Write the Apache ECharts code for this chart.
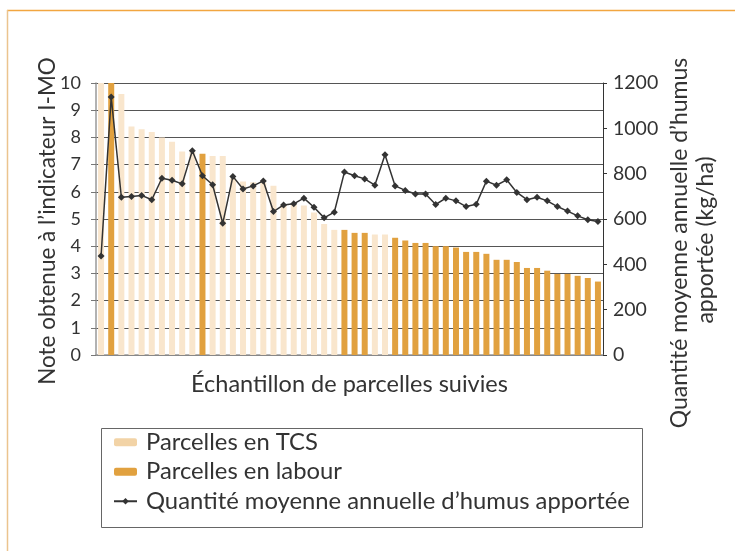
<!DOCTYPE html>
<html><head><meta charset="utf-8">
<script src="https://cdn.jsdelivr.net/npm/echarts@6/dist/echarts.min.js"></script>
<style>html,body{margin:0;padding:0;background:#fff}#c{width:735px;height:551px}</style>
</head><body><div id="c"></div>
<script>
const categories = Array.from({length: 50}, (_, i) => String(i + 1));
// "L" = Parcelles en TCS, "D" = Parcelles en labour
const types = ['L','D','L','L','L','L','L','L','L','L',
               'D','L','L','L','L','L','L','L','L','L',
               'L','L','L','L','D','D','D','L','L','D',
               'D','D','D','D','D','D','D','D','D','D',
               'D','D','D','D','D','D','D','D','D','D'];
const notes = [10, 10, 9.6, 8.4, 8.3, 8.2, 8.0, 7.84, 7.48, 7.45,
               7.4, 7.32, 7.32, 6.5, 6.38, 6.35, 6.33, 6.22, 5.52, 5.52,
               5.5, 5.24, 4.82, 4.6, 4.6, 4.49, 4.49, 4.43, 4.43, 4.31,
               4.21, 4.12, 4.12, 4.0, 4.0, 3.95, 3.79, 3.79, 3.72, 3.5,
               3.5, 3.42, 3.2, 3.2, 3.1, 2.98, 2.98, 2.91, 2.83, 2.7];
const humus = [437, 1138, 696, 699, 704, 685, 780, 771, 755, 901,
               791, 751, 581, 788, 732, 746, 768, 633, 662, 667,
               692, 652, 605, 630, 807, 791, 777, 749, 883, 746,
               726, 710, 710, 664, 692, 680, 655, 665, 767, 749,
               773, 717, 685, 696, 680, 655, 635, 614, 597, 589];
const leftTicks = [0, 10, 1];
const rightTicks = [0, 1200, 200];

const tcsData = notes.map((v, i) => types[i] === 'L' ? v : '-');
const labourData = notes.map((v, i) => types[i] === 'D' ? v : '-');

const FONT = 'Lato';
const chart = echarts.init(document.getElementById('c'), null, {renderer: 'canvas'});
chart.setOption({
  animation: false,
  textStyle: {fontFamily: FONT, color: '#333'},
  grid: {left: 96, right: 132, top: 83, bottom: 196, containLabel: false},
  xAxis: {
    type: 'category', data: categories, boundaryGap: true,
    axisLine: {lineStyle: {color: '#999', width: 1.5}},
    axisTick: {show: false}, axisLabel: {show: false},
    name: 'Échantillon de parcelles suivies', nameLocation: 'middle', nameGap: 17,
    nameTextStyle: {fontFamily: FONT, fontSize: 23.5, color: '#333'}
  },
  yAxis: [{
    type: 'value', min: leftTicks[0], max: leftTicks[1], interval: leftTicks[2],
    axisLine: {show: true, lineStyle: {color: '#999', width: 1.5}},
    axisTick: {show: true, inside: false, length: 5, lineStyle: {color: '#777'}},
    axisLabel: {fontFamily: FONT, fontSize: 18, color: '#333', margin: 15},
    splitLine: {show: true, lineStyle: {color: '#555', width: 1}}
  }, {
    type: 'value', position: 'right', min: rightTicks[0], max: rightTicks[1], interval: rightTicks[2],
    axisLine: {show: true, lineStyle: {color: '#333', width: 1}},
    axisTick: {show: true, inside: false, length: 4, lineStyle: {color: '#333'}},
    axisLabel: {fontFamily: FONT, fontSize: 19.5, color: '#333', margin: 10, formatter: v => String(v)},
    splitLine: {show: false}
  }],
  legend: {
    orient: 'vertical', left: 113, top: 429, padding: 0, itemGap: 3,
    itemWidth: 23, itemHeight: 8,
    textStyle: {fontFamily: FONT, fontSize: 23.8, color: '#333', lineHeight: 26.5, padding: [0, 0, 0, 4]},
    data: [
      {name: 'Parcelles en TCS', itemStyle: {color: '#F2D3A6'}},
      {name: 'Parcelles en labour'},
      {name: 'Quantité moyenne annuelle d’humus apportée'}
    ]
  },
  series: [{
    name: 'Parcelles en TCS', type: 'bar', data: tcsData, barWidth: 6, barGap: '-100%',
    itemStyle: {color: '#F9E6CD'}, z: 2
  }, {
    name: 'Parcelles en labour', type: 'bar', data: labourData, barWidth: 6,
    itemStyle: {color: '#E1A13F'}, z: 2
  }, {
    name: 'Quantité moyenne annuelle d’humus apportée', type: 'line', yAxisIndex: 1, data: humus,
    symbol: 'diamond', symbolSize: 7, showSymbol: true, showAllSymbol: true,
    lineStyle: {color: '#333', width: 1.5}, itemStyle: {color: '#333'}, z: 5
  }],
  graphic: [
    {type: 'line', shape: {x1: 7, y1: 10.5, x2: 735, y2: 10.5}, style: {stroke: '#F2A640', lineWidth: 1.5}, silent: true},
    {type: 'line', shape: {x1: 7.5, y1: 10, x2: 7.5, y2: 551}, style: {stroke: '#EBC48E', lineWidth: 1.5}, silent: true},
    {type: 'rect', shape: {x: 101.5, y: 428.5, width: 541, height: 99}, style: {fill: null, stroke: '#666', lineWidth: 1}, silent: true, z: -1},
    {type: 'text', x: 48, y: 221, rotation: Math.PI / 2,
     style: {text: 'Note obtenue à l’indicateur I-MO', fontFamily: FONT, fontSize: 22.5, fill: '#333', textAlign: 'center', textVerticalAlign: 'middle'}},
    {type: 'text', x: 680, y: 243, rotation: Math.PI / 2,
     style: {text: 'Quantité moyenne annuelle d’humus', fontFamily: FONT, fontSize: 23, fill: '#333', textAlign: 'center', textVerticalAlign: 'middle'}},
    {type: 'text', x: 706, y: 240, rotation: Math.PI / 2,
     style: {text: 'apportée (kg/ha)', fontFamily: FONT, fontSize: 23, fill: '#333', textAlign: 'center', textVerticalAlign: 'middle'}}
  ]
});
</script></body></html>
